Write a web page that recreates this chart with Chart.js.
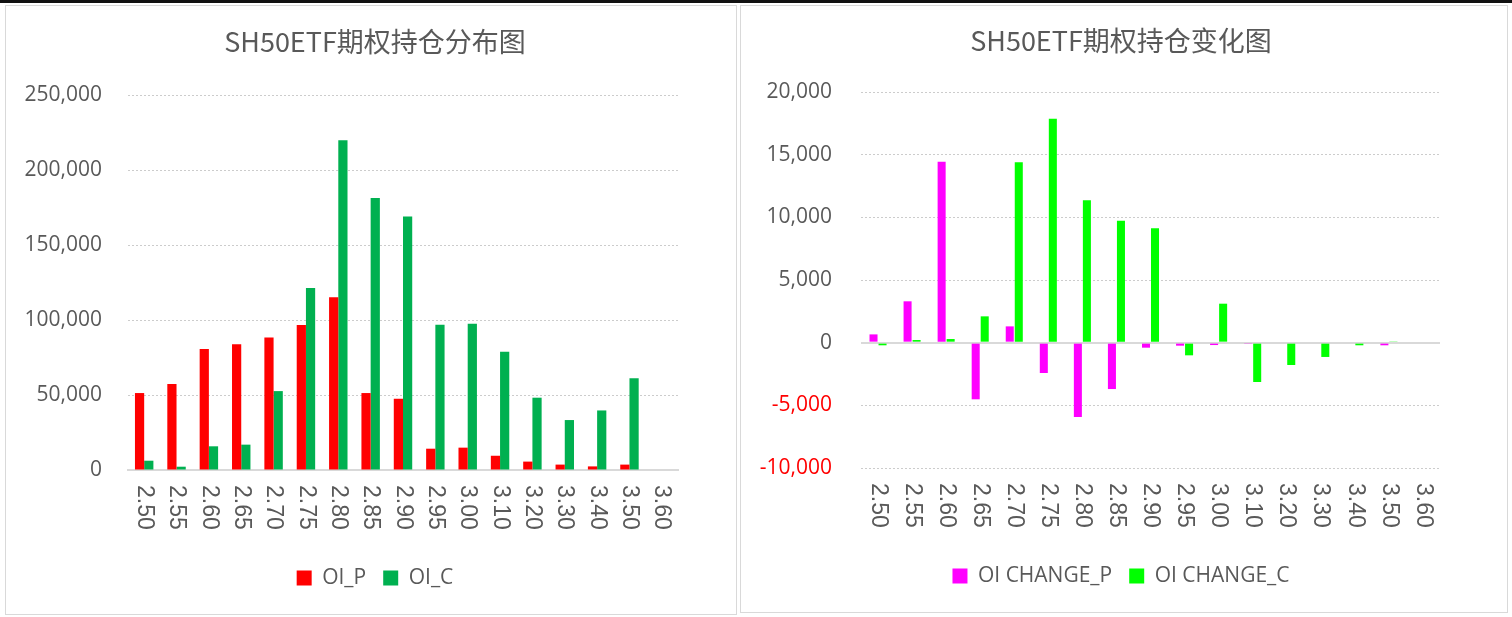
<!DOCTYPE html>
<html>
<head>
<meta charset="utf-8">
<script src="https://cdn.jsdelivr.net/npm/chart.js@4.4.1/dist/chart.umd.min.js"></script>
<style>
  html, body { margin: 0; padding: 0; background: #fff; }
  body { width: 1512px; height: 617px; position: relative; overflow: hidden; }
  #topline { position: absolute; left: 0; top: 0; width: 1512px; height: 3px; background: #111; }
  .panel { position: absolute; box-sizing: border-box; border: 1px solid #D9D9D9; background: #fff; }
  #p1 { left: 5px; top: 5px; width: 732px; height: 610px; }
  #p2 { left: 740px; top: 5px; width: 768px; height: 608px; }
  canvas { display: block; }
</style>
</head>
<body>
<div id="topline"></div>
<div class="panel" id="p1"><canvas id="c1" width="730" height="608"></canvas></div>
<div class="panel" id="p2"><canvas id="c2" width="766" height="606"></canvas></div>
<script>
// ---- data ----
const strikes = ['2.50','2.55','2.60','2.65','2.70','2.75','2.80','2.85','2.90','2.95','3.00','3.10','3.20','3.30','3.40','3.50','3.60'];
const oiP = [51300, 57300, 80600, 83900, 88400, 96600, 115200, 51300, 47500, 14200, 14900, 9500, 5600, 3600, 2400, 3600, 0];
const oiC = [6200, 2200, 15800, 16900, 52600, 121400, 219800, 181400, 169000, 96800, 97500, 78800, 48200, 33300, 39700, 61100, 0];
const chgP = [660, 3300, 14440, -4520, 1300, -2420, -5930, -3700, -400, -240, -190, -100, 0, 0, 0, -210, 0];
const chgC = [-210, 210, 290, 2100, 14390, 17870, 11360, 9730, 9120, -1010, 3110, -3140, -1780, -1140, -210, 100, 0];
const title1 = 'SH50ETF期权持仓分布图';
const title2 = 'SH50ETF期权持仓变化图';
const seriesNames1 = ['OI_P', 'OI_C'];
const seriesNames2 = ['OI CHANGE_P', 'OI CHANGE_C'];
const yAxis1 = { min: 0, max: 250000, step: 50000 };
const yAxis2 = { min: -10000, max: 20000, step: 5000 };

// ---- styles ----
const TXT = '#595959';
const GRID = '#CCCCCC';
const AXIS = '#D9D9D9';
const tickFont = { family: "'Open Sans', sans-serif", size: 21 };
const xFont = { family: "'Liberation Sans', Arial, sans-serif", size: 23 };
const titleFont = { family: "'Noto Sans CJK SC', sans-serif", size: 27, weight: 'normal' };
const fmt = v => Number(v).toLocaleString('en-US');

function xAxis(height, borderShow) {
  return {
    type: 'category',
    ticks: { font: xFont, color: TXT, minRotation: 90, maxRotation: 90, autoSkip: false, padding: 15 },
    grid: { display: false, drawTicks: false },
    border: { display: borderShow, color: AXIS, width: 2 },
    afterFit(scale) {
      scale.height = height;
      scale.labelRotation = -90;            // clockwise, reading top to bottom
      scale._getXAxisLabelAlignment = () => 'left';
    }
  };
}

// empty right-hand spacer axis so the title/legend centre matches the reference
function spacerAxis(width) {
  return {
    type: 'linear', position: 'right', display: true,
    ticks: { display: false }, grid: { display: false, drawTicks: false }, border: { display: false },
    afterFit(scale) { scale.width = width; }
  };
}

function legendOpts() {
  return {
    position: 'bottom',
    labels: { font: tickFont, color: TXT, boxWidth: 15, boxHeight: 15, padding: 17 }
  };
}

// ---- chart 1 ----
new Chart(document.getElementById('c1'), {
  type: 'bar',
  data: {
    labels: strikes,
    datasets: [
      { label: seriesNames1[0], data: oiP, backgroundColor: '#FF0000', borderWidth: 0, categoryPercentage: 0.57, barPercentage: 1.0 },
      { label: seriesNames1[1], data: oiC, backgroundColor: '#00B050', borderWidth: 0, categoryPercentage: 0.57, barPercentage: 1.0 }
    ]
  },
  options: {
    responsive: false,
    animation: false,
    layout: { padding: { left: 8, right: 0, top: 0, bottom: 15.5 } },
    plugins: {
      title: { display: true, text: title1, font: titleFont, color: TXT, padding: { top: 19.8, bottom: 36.8 } },
      legend: legendOpts(),
      tooltip: { enabled: false }
    },
    scales: {
      x: xAxis(80.5, true),
      y: {
        min: yAxis1.min, max: yAxis1.max,
        ticks: { stepSize: yAxis1.step, font: tickFont, color: TXT, padding: 26, callback: v => fmt(v) },
        grid: { color: GRID, lineWidth: 1, drawTicks: false },
        border: { display: false, dash: [2, 2] },
        afterFit(scale) { scale.width = 114; }
      },
      spacer: spacerAxis(58)
    }
  }
});

// ---- chart 2 ----
new Chart(document.getElementById('c2'), {
  type: 'bar',
  data: {
    labels: strikes,
    datasets: [
      { label: seriesNames2[0], data: chgP, backgroundColor: '#FF00FF', borderWidth: 0, categoryPercentage: 0.53, barPercentage: 0.89 },
      { label: seriesNames2[1], data: chgC, backgroundColor: '#00FF00', borderWidth: 0, categoryPercentage: 0.53, barPercentage: 0.89 }
    ]
  },
  options: {
    responsive: false,
    animation: false,
    layout: { padding: { left: 0, right: 6, top: 0, bottom: 15.5 } },
    plugins: {
      title: { display: true, text: title2, font: titleFont, color: TXT, padding: { top: 18.8, bottom: 34.8 } },
      legend: legendOpts(),
      tooltip: { enabled: false }
    },
    scales: {
      x: xAxis(80.5, false),
      y: {
        min: yAxis2.min, max: yAxis2.max,
        ticks: {
          stepSize: yAxis2.step, font: tickFont, padding: 29, callback: v => fmt(v),
          color: ctx => (ctx.tick && ctx.tick.value < 0) ? '#FF0000' : TXT
        },
        grid: {
          drawTicks: false,
          color: ctx => (ctx.tick && ctx.tick.value === 0) ? AXIS : GRID,
          lineWidth: ctx => (ctx.tick && ctx.tick.value === 0) ? 2 : 1
        },
        border: {
          display: false,
          dash: ctx => (ctx.tick && ctx.tick.value === 0) ? [] : [2, 2]
        },
        afterFit(scale) { scale.width = 120; }
      },
      spacer: spacerAxis(61)
    }
  }
});
</script>
</body>
</html>
